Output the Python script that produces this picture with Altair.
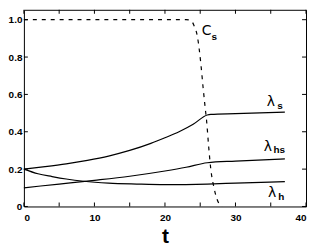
import altair as alt
import pandas as pd

# ---- data ----
cs_t = [0, 23.0, 23.7, 24.1, 24.6, 25.1, 25.4, 25.7, 25.9, 26.2, 26.5, 26.9, 27.4, 28.1]
cs_v = [1.0, 1.0, 0.995, 0.97, 0.91, 0.76, 0.64, 0.53, 0.46, 0.32, 0.2, 0.11, 0.037, 0.0]

ls_t = [0, 3, 6, 9, 12, 15, 18, 20, 22, 24, 26, 26.5, 30, 37]
ls_v = [0.20, 0.213, 0.228, 0.247, 0.27, 0.30, 0.338, 0.368, 0.40, 0.44, 0.49, 0.493, 0.497, 0.505]

lhs_t = [0, 5, 10, 15, 20, 23, 26, 30, 37]
lhs_v = [0.10, 0.12, 0.14, 0.162, 0.19, 0.21, 0.234, 0.243, 0.255]

lh_t = [0, 2, 4, 6, 8.5, 12, 16, 20, 26, 30, 37]
lh_v = [0.20, 0.175, 0.16, 0.147, 0.135, 0.125, 0.12, 0.117, 0.12, 0.125, 0.133]

x_ticks = [0, 5, 10, 15, 20, 25, 30, 35, 40]
x_labels = [0, 10, 20, 30, 40]
y_ticks = [0, 0.2, 0.4, 0.6, 0.8, 1.0]

main_text = ["C", "λ", "λ", "λ"]
main_t = [25.9, 35.0, 34.6, 35.2]
main_y = [0.94, 0.558, 0.316, 0.074]
sub_text = ["s", "s", "hs", "h"]
sub_t = [27.0, 36.3, 36.2, 36.5]
sub_y = [0.905, 0.537, 0.30, 0.05]

W, H = 284, 198
FONT = "Liberation Sans"

xs = alt.Scale(domain=[0, 40], nice=False, zero=False)
ys = alt.Scale(domain=[0, 1.053], nice=False, zero=False)

def curve_df(t, v, name):
    return pd.DataFrame({"t": t, "v": v, "series": name})

solid = pd.concat([curve_df(ls_t, ls_v, "ls"), curve_df(lhs_t, lhs_v, "lhs"),
                   curve_df(lh_t, lh_v, "lh")])
dashed = curve_df(cs_t, cs_v, "cs")

x_axis = alt.Axis(values=x_labels, ticks=False, domain=False, grid=False,
                  labelFont=FONT, labelFontWeight="bold", labelFontSize=10,
                  labelColor="black", labelPadding=6, labelOverlap=False,
                  title="t",
                  titleFont=FONT, titleFontSize=21, titleFontWeight="bold",
                  titleColor="black", titlePadding=3)
y_axis = alt.Axis(values=y_ticks, ticks=False, domain=False, grid=False,
                  labelFont=FONT, labelFontWeight="bold", labelFontSize=10,
                  labelColor="black", labelPadding=2, labelOverlap=False,
                  title=None,
                  labelExpr="datum.value == 0 ? '0' : format(datum.value, '.1f')")

X = lambda: alt.X("t:Q", scale=xs, axis=x_axis)
Y = lambda: alt.Y("v:Q", scale=ys, axis=y_axis)

lines = alt.Chart(solid).mark_line(color="black", strokeWidth=1.2,
                                   interpolate="monotone").encode(
    x=X(), y=Y(), detail="series:N")

dash = alt.Chart(dashed).mark_line(color="black", strokeWidth=1.2,
                                   strokeDash=[4, 5],
                                   interpolate="monotone").encode(x=X(), y=Y())

xt = pd.DataFrame({"t": x_ticks})
yt = pd.DataFrame({"v": y_ticks})
tick_b = alt.Chart(xt).mark_rule(color="black").encode(
    x=X(), y=alt.value(H), y2=alt.value(H - 4))
tick_t = alt.Chart(xt).mark_rule(color="black").encode(
    x=X(), y=alt.value(0), y2=alt.value(4))
tick_l = alt.Chart(yt).mark_rule(color="black").encode(
    y=Y(), x=alt.value(0), x2=alt.value(4))
tick_r = alt.Chart(yt).mark_rule(color="black").encode(
    y=Y(), x=alt.value(W), x2=alt.value(W - 4))

mt = pd.DataFrame({"t": main_t, "v": main_y, "txt": main_text})
st = pd.DataFrame({"t": sub_t, "v": sub_y, "txt": sub_text})
main_lbl = alt.Chart(mt).mark_text(font="DejaVu Sans", fontSize=14,
                                   color="black", align="center",
                                   baseline="middle").encode(
    x=X(), y=Y(), text="txt:N")
sub_lbl = alt.Chart(st).mark_text(font=FONT, fontSize=10, fontWeight="bold",
                                  color="black", align="center",
                                  baseline="middle").encode(
    x=X(), y=Y(), text="txt:N")

chart = alt.layer(lines, dash, tick_b, tick_t, tick_l, tick_r,
                  main_lbl, sub_lbl).properties(
    width=W, height=H,
    autosize=alt.AutoSizeParams(type="none"),
    padding={"left": 16, "top": 1, "right": 2, "bottom": 42},
    background="white",
).configure_view(stroke="black", strokeWidth=1)

chart.save("out.html", embed_options={"renderer": "svg", "actions": False})
